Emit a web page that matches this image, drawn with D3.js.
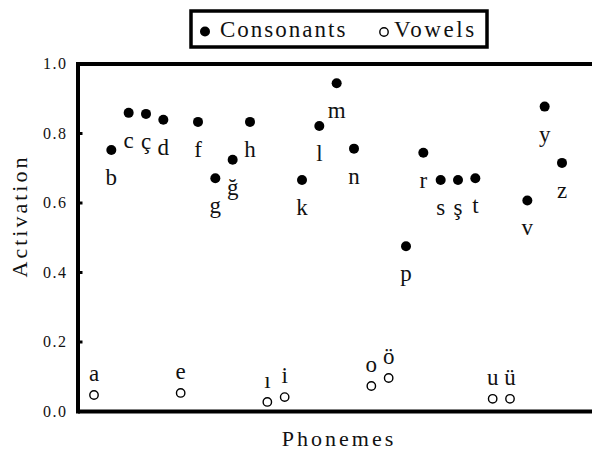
<!DOCTYPE html>
<html>
<head>
	<title>Phoneme activation</title>
	<script src="https://d3js.org/d3.v7.min.js" type="text/javascript"></script>
	<style>
		body { margin: 0; background: #fff; }
	</style>
</head>
<body>
	<script type="text/javascript">
		// Phonemes in Turkish alphabetical order (no j)
		var phonemes = ["a","b","c","ç","d","e","f","g","ğ","h","ı","i","k","l",
		                "m","n","o","ö","p","r","s","ş","t","u","ü","v","y","z"];
		var activation = [0.046, 0.751, 0.858, 0.855, 0.838, 0.052, 0.832, 0.670, 0.723, 0.832,
		                  0.026, 0.040, 0.665, 0.820, 0.943, 0.755, 0.072, 0.095, 0.474, 0.743,
		                  0.665, 0.665, 0.670, 0.035, 0.035, 0.606, 0.876, 0.714];
		var vowels = ["a","e","ı","i","o","ö","u","ü"];
		var yTicks = [0, 0.2, 0.4, 0.6, 0.8, 1.0];

		var width = 592, height = 450;
		var plotLeft = 77.5, plotTop = 63.5, plotBottom = 411, plotRight = 592;

		var data = phonemes.map(function(p, i) {
			return { name: p, value: activation[i], vowel: vowels.indexOf(p) >= 0 };
		});

		var svg = d3.select("body").append("svg")
			.attr("width", width)
			.attr("height", height);

		var x = d3.scalePoint().domain(phonemes).range([94, 562]);
		var y = d3.scaleLinear().domain([0, 1]).range([plotBottom, plotTop]);

		// frame: top and bottom lines run to the right edge
		var xFrame = d3.scaleLinear().domain([0, 1]).range([plotLeft, plotRight]);
		svg.append("g")
			.attr("transform", "translate(0," + plotBottom + ")")
			.call(d3.axisBottom(xFrame).tickValues([]).tickSizeOuter(0))
			.select(".domain").attr("stroke-width", 4);
		svg.append("g")
			.attr("transform", "translate(0," + plotTop + ")")
			.call(d3.axisTop(xFrame).tickValues([]).tickSizeOuter(0))
			.select(".domain").attr("stroke-width", 4);

		var yAxis = svg.append("g")
			.attr("transform", "translate(" + plotLeft + ",0)")
			.call(d3.axisLeft(y).tickValues(yTicks).tickFormat(d3.format(".1f"))
				.tickSize(-5).tickSizeOuter(0).tickPadding(10));
		yAxis.select(".domain").attr("stroke-width", 4).attr("stroke-linecap", "square");
		yAxis.selectAll(".tick line").attr("stroke-width", 3);
		yAxis.selectAll(".tick text")
			.attr("font-size", "16px")
			.attr("letter-spacing", "1.5px");

		// points
		svg.selectAll("circle.pt")
			.data(data)
			.enter().append("circle")
			.attr("class", "pt")
			.attr("cx", function(d) { return x(d.name); })
			.attr("cy", function(d) { return y(d.value); })
			.attr("r", function(d) { return d.vowel ? 4.2 : 5; })
			.attr("fill", function(d) { return d.vowel ? "white" : "black"; })
			.attr("stroke", "black")
			.attr("stroke-width", function(d) { return d.vowel ? 1.4 : 0; });

		// labels: consonants below, vowels above
		svg.selectAll("text.lab")
			.data(data)
			.enter().append("text")
			.attr("class", "lab")
			.attr("text-anchor", "middle")
			.attr("font-size", "23px")
			.attr("x", function(d) { return x(d.name); })
			.attr("y", function(d) { return y(d.value) + (d.vowel ? -14 : 35); })
			.text(function(d) { return d.name; });

		// axis titles
		svg.append("text")
			.attr("text-anchor", "middle")
			.attr("font-size", "22px")
			.attr("letter-spacing", "3px")
			.attr("x", 339)
			.attr("y", 446)
			.text("Phonemes");
		svg.append("text")
			.attr("text-anchor", "middle")
			.attr("font-size", "22px")
			.attr("letter-spacing", "3px")
			.attr("transform", "translate(27,216) rotate(-90)")
			.text("Activation");

		// legend
		var legend = svg.append("g");
		legend.append("rect")
			.attr("x", 191).attr("y", 11)
			.attr("width", 296).attr("height", 36)
			.attr("fill", "white")
			.attr("stroke", "black")
			.attr("stroke-width", 3.5);
		legend.append("circle")
			.attr("cx", 205).attr("cy", 31.5).attr("r", 5)
			.attr("fill", "black");
		legend.append("text")
			.attr("x", 220).attr("y", 37)
			.attr("font-size", "23px")
			.attr("letter-spacing", "2px")
			.text("Consonants");
		legend.append("circle")
			.attr("cx", 384).attr("cy", 32).attr("r", 4.2)
			.attr("fill", "white")
			.attr("stroke", "black")
			.attr("stroke-width", 1.4);
		legend.append("text")
			.attr("x", 394).attr("y", 37)
			.attr("font-size", "23px")
			.attr("letter-spacing", "2.6px")
			.text("Vowels");

		// one serif face for every text
		svg.selectAll("text")
			.style("font-family", "'Liberation Serif'")
			.style("fill", "#111");
	</script>
</body>
</html>
